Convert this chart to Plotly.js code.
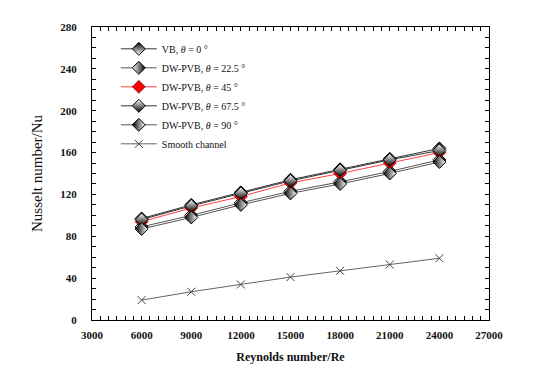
<!DOCTYPE html>
<html>
<head>
<meta charset="utf-8">
<script src="https://cdn.plot.ly/plotly-3.0.1.min.js"></script>
<style>html,body{margin:0;padding:0;background:#fff;}#chart{width:536px;height:370px;}</style>
</head>
<body>
<div id="chart"></div>
<script>
const reynolds = [6000, 9000, 12000, 15000, 18000, 21000, 24000];
const nuVB0 = [97, 110, 122, 134, 144, 154, 164];
const nuDW22 = [89, 100, 112, 123, 132, 142, 153];
const nuDW45 = [94, 107, 118, 131, 140, 150, 160];
const nuDW67 = [96, 109, 121, 133, 143, 153, 162];
const nuDW90 = [87, 98, 110, 121, 130, 140, 151];
const nuSmooth = [19, 27, 34, 41, 47, 53, 59];
const seriesNames = ["VB, <i>θ</i> = 0 °", "DW-PVB, <i>θ</i> = 22.5 °", "DW-PVB, <i>θ</i> = 45 °", "DW-PVB, <i>θ</i> = 67.5 °", "DW-PVB, <i>θ</i> = 90 °", "Smooth channel"];

function halfDiamond(name, y, grad, c1, c2, lineColor) {
  return {
    x: reynolds, y: y, name: name, type: 'scatter', mode: 'lines+markers',
    line: {color: lineColor, width: 1},
    marker: {symbol: 'diamond', size: 10, color: c1,
             gradient: {type: grad, color: c2},
             line: {color: 'black', width: 1}}
  };
}

const traces = [
  halfDiamond(seriesNames[0], nuVB0, 'vertical', 'black', 'white', '#333'),
  halfDiamond(seriesNames[1], nuDW22, 'horizontal', 'white', 'black', '#555'),
  {x: reynolds, y: nuDW45, name: seriesNames[2], type: 'scatter', mode: 'lines+markers',
   line: {color: '#ff4040', width: 1},
   marker: {symbol: 'diamond', size: 10, color: 'red', line: {color: 'black', width: 0.5}}},
  halfDiamond(seriesNames[3], nuDW67, 'vertical', 'white', 'black', '#333'),
  halfDiamond(seriesNames[4], nuDW90, 'horizontal', 'black', 'white', '#555'),
  {x: reynolds, y: nuSmooth, name: seriesNames[5], type: 'scatter', mode: 'lines+markers',
   line: {color: '#666', width: 1},
   marker: {symbol: 'x-thin-open', size: 8, color: '#444', line: {color: '#444', width: 1}}}
];

const serif = 'Liberation Serif, Times New Roman, serif';
const layout = {
  width: 536, height: 370,
  margin: {l: 92, r: 47, t: 27, b: 50},
  paper_bgcolor: 'white', plot_bgcolor: 'white',
  showlegend: true,
  legend: {x: 0.06, y: 0.975, xanchor: 'left', yanchor: 'top', bgcolor: 'rgba(0,0,0,0)',
           font: {family: serif, size: 10, color: '#111'}, tracegroupgap: 0, itemwidth: 36},
  xaxis: {
    range: [3000, 27000], dtick: 3000, tick0: 3000, tickformat: 'd',
    ticks: 'inside', ticklen: 4, tickwidth: 1, tickcolor: 'black',
    minor: {dtick: 500, ticks: 'inside', ticklen: 4, tickcolor: 'black'},
    showline: true, linecolor: 'black', linewidth: 1, mirror: 'allticks',
    showgrid: false, zeroline: false, ticklabelstandoff: 5,
    tickfont: {family: serif, size: 11, color: '#111', weight: 'bold'},
    title: {text: '<b>Reynolds number/Re</b>', font: {family: serif, size: 12, color: '#111'}, standoff: 12}
  },
  yaxis: {
    range: [0, 280], dtick: 40, tick0: 0,
    ticks: 'inside', ticklen: 4, tickwidth: 1, tickcolor: 'black',
    minor: {dtick: 10, ticks: 'inside', ticklen: 4, tickcolor: 'black'},
    showline: true, linecolor: 'black', linewidth: 1, mirror: 'allticks',
    showgrid: false, zeroline: false, ticklabelstandoff: 12,
    tickfont: {family: serif, size: 11, color: '#111', weight: 'bold'},
    title: {text: 'Nusselt number/Nu', font: {family: serif, size: 15, color: '#111'}, standoff: 14}
  }
};

Plotly.newPlot('chart', traces, layout, {displayModeBar: false, staticPlot: true});
</script>
</body>
</html>
